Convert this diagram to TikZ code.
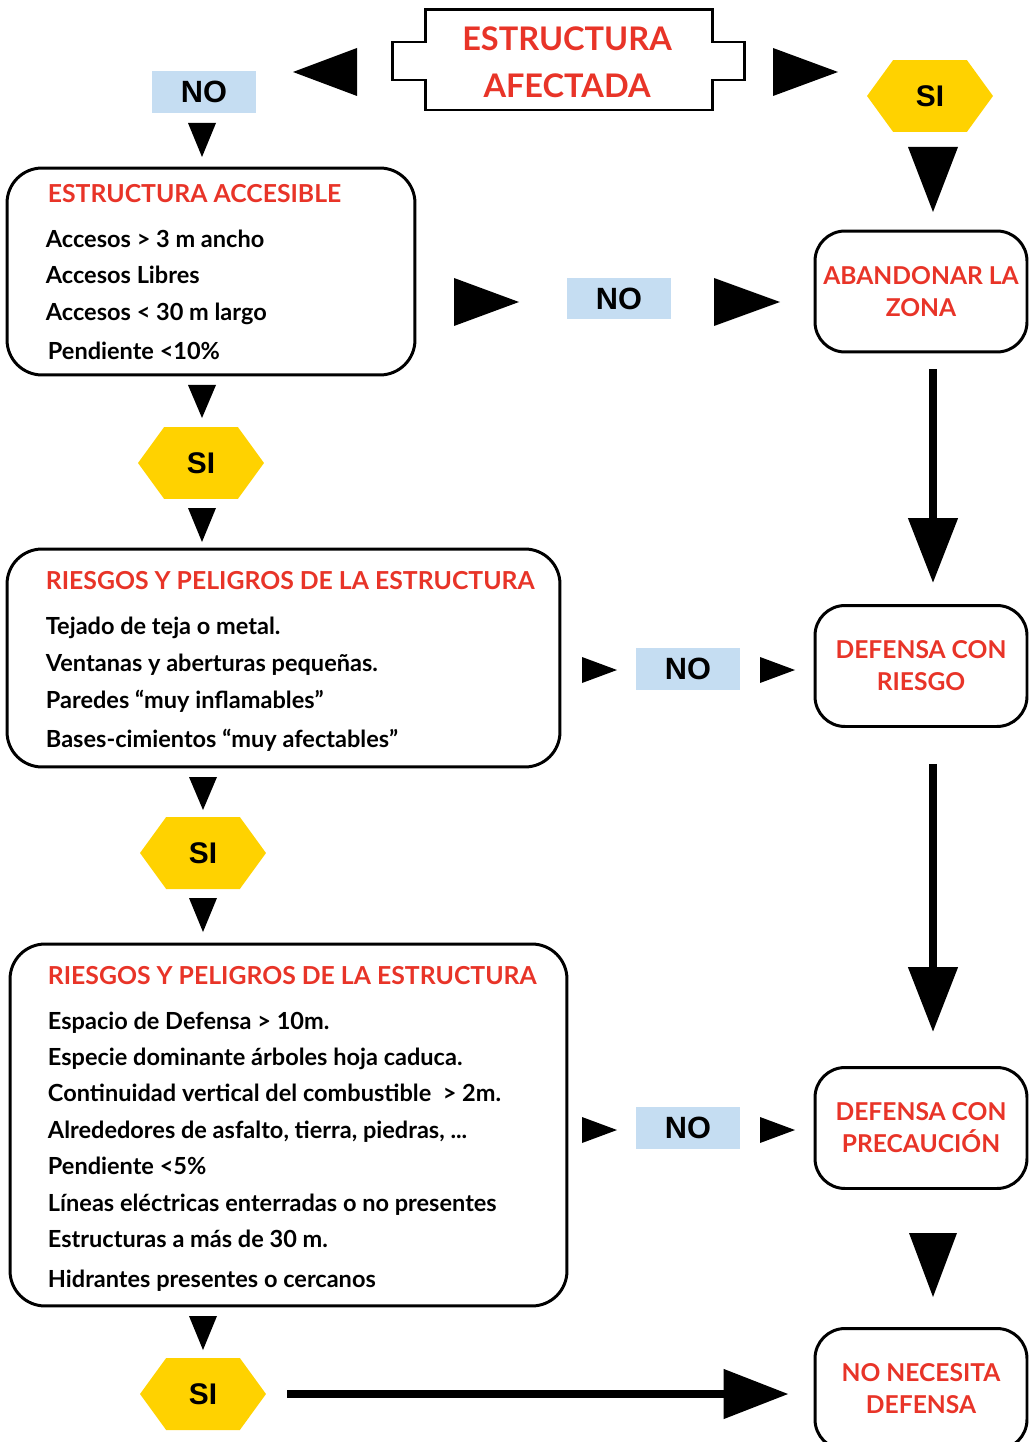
\documentclass[tikz,border=0pt]{standalone}
\usepackage{fontspec}
\setmainfont{Lato}
\newfontfamily\arialfont{Liberation Sans}
\usepackage{tikz}
\usetikzlibrary{shapes,shapes.geometric,shapes.symbols,arrows,arrows.meta,positioning,calc,fit}
\definecolor{tred}{RGB}{232,52,40}
\definecolor{nofill}{RGB}{197,221,242}
\definecolor{siyellow}{RGB}{255,210,0}
% filled triangles: x, y of base middle, half base, length
\newcommand{\tridown}[4]{\fill (#1-#3,#2) -- (#1+#3,#2) -- (#1,#2+#4) -- cycle;}
\newcommand{\triright}[4]{\fill (#1,#2-#3) -- (#1,#2+#3) -- (#1+#4,#2) -- cycle;}

\begin{document}
\begin{tikzpicture}[x=0.02cm, y=-0.02cm, >=stealth]
  % styles
  \tikzstyle{card}=[rectangle, draw=black, line width=1.7pt, rounded corners=0.7cm, inner sep=0pt];
  \tikzstyle{head}=[font=\fontsize{14.1}{16}\selectfont\bfseries, text=tred, anchor=base west, inner sep=0pt];
  \tikzstyle{item}=[font=\fontsize{13.4}{15}\selectfont\bfseries, anchor=base west, inner sep=0pt];
  \tikzstyle{res}=[card, rounded corners=0.6cm, minimum width=4.24cm, minimum height=2.42cm, align=center, text=tred, font=\fontsize{14}{18.2}\selectfont\bfseries];
  \tikzstyle{no}=[rectangle, fill=nofill, minimum width=2.08cm, minimum height=0.84cm, inner sep=0pt, font=\arialfont\fontsize{17.5}{19}\selectfont\bfseries];
  \tikzstyle{si}=[signal, signal to=west and east, signal pointer angle=108, fill=siyellow, minimum width=2.52cm, minimum height=1.44cm, inner sep=0pt, font=\arialfont\fontsize{17}{19}\selectfont\bfseries];
  \tikzstyle{big}=[line width=0.16cm, -{Triangle[length=1.3cm, width=0.96cm]}];

  \useasboundingbox (0,0) rectangle (1032,1442);

  %==================== TOP ====================
  \node[align=center, text=tred, inner sep=0pt, font=\fontsize{18.5}{26.7}\selectfont\bfseries] (top) at (567,62) {ESTRUCTURA\\AFECTADA};
  \draw[line width=1.7pt] (425,10) -- (712,10) -- (712,42) -- (744,42) -- (744,80) -- (712,80) -- (712,110)
    -- (425,110) -- (425,80) -- (392,80) -- (392,42) -- (425,42) -- cycle;
  \fill (293,72) -- (357,48) -- (357,96) -- cycle;
  \triright{773}{72}{24}{65}
  \node[no] (no1) at (204,92) {NO};
  \node[si] (si1) at (930,96) {SI};
  \tridown{202}{123}{14}{34}
  \tridown{933}{147}{25}{65}

  %==================== ACCESIBLE ====================
  \node[card, minimum width=8.16cm, minimum height=4.14cm] (acc) at (211,271.5) {};
  \node[head] (acc0) at ($(acc.north west)+(42,36)$) {ESTRUCTURA ACCESIBLE};
  \node[item] (acc1) at ($(acc.north west)+(40,81)$) {Accesos > 3 m ancho};
  \node[item] (acc2) at ($(acc.north west)+(40,117)$) {Accesos Libres};
  \node[item] (acc3) at ($(acc.north west)+(40,154)$) {Accesos < 30 m largo};
  \node[item] (acc4) at ($(acc.north west)+(42,193)$) {Pendiente <10\%};
  \triright{454}{302}{24}{65}
  \node[no] (no2) at (619,298.5) {NO};
  \triright{714}{302}{24}{66}
  \node[res] (aband) at (921,291.5) {ABANDONAR LA\\ZONA};
  \tridown{202}{385}{14}{33}
  \node[si] (si2) at (201,463) {SI};
  \tridown{202}{508}{14}{34}

  %==================== RIESGOS 1 ====================
  \node[card, minimum width=11.06cm, minimum height=4.36cm] (rie) at (283.5,658) {};
  \node[head] (rie0) at ($(rie.north west)+(40,42)$) {RIESGOS Y PELIGROS DE LA ESTRUCTURA};
  \node[item] (rie1) at ($(rie.north west)+(40,87)$) {Tejado de teja o metal.};
  \node[item] (rie2) at ($(rie.north west)+(40,124)$) {Ventanas y aberturas pequeñas.};
  \node[item] (rie3) at ($(rie.north west)+(40,161)$) {Paredes “muy inflamables”};
  \node[item] (rie4) at ($(rie.north west)+(40,200)$) {Bases-cimientos “muy afectables”};
  \triright{582}{670}{13}{35}
  \node[no] (no3) at (688,669) {NO};
  \triright{760}{670}{13}{35}
  \node[res] (riesgo) at (921,666) {DEFENSA CON\\RIESGO};
  \tridown{203}{777}{14}{33}
  \node[si] (si3) at (203,853) {SI};
  \tridown{203}{898}{14}{34}

  %==================== RIESGOS 2 ====================
  \node[card, minimum width=11.14cm, minimum height=7.24cm] (def) at (288.5,1125) {};
  \node[head] (def0) at ($(def.north west)+(39,42)$) {RIESGOS Y PELIGROS DE LA ESTRUCTURA};
  \node[item] (def1) at ($(def.north west)+(39,87)$) {Espacio de Defensa > 10m.};
  \node[item] (def2) at ($(def.north west)+(39,123)$) {Especie dominante árboles hoja caduca.};
  \node[item] (def3) at ($(def.north west)+(39,159)$) {Continuidad vertical del combustible \ > 2m.};
  \node[item] (def4) at ($(def.north west)+(39,196)$) {Alrededores de asfalto, tierra, piedras, ...};
  \node[item] (def5) at ($(def.north west)+(39,232)$) {Pendiente <5\%};
  \node[item] (def6) at ($(def.north west)+(39,269)$) {Líneas eléctricas enterradas o no presentes};
  \node[item] (def7) at ($(def.north west)+(39,305)$) {Estructuras a más de 30 m.};
  \node[item] (def8) at ($(def.north west)+(39,345)$) {Hidrantes presentes o cercanos};
  \triright{582}{1130}{13}{35}
  \node[no] (no4) at (688,1128) {NO};
  \triright{760}{1130}{13}{35}
  \node[res] (prec) at (921,1128) {DEFENSA CON\\PRECAUCIÓN};
  \tridown{933}{1233}{24}{64}
  \tridown{203}{1316}{14}{34}
  \node[si] (si4) at (203,1394) {SI};
  \node[res] (nonec) at (921,1389) {NO NECESITA\\DEFENSA};

  % long arrows
  \draw[big, shorten <=0.32cm, shorten >=0.42cm] ($(aband.south)+(12,0)$) -- ($(riesgo.north)+(12,0)$);
  \draw[big, shorten <=0.72cm, shorten >=0.68cm] ($(riesgo.south)+(12,0)$) -- ($(prec.north)+(12,0)$);
  \draw[big, shorten <=0.42cm, shorten >=0.5cm] (si4.east) -- (si4.east -| nonec.west);
\end{tikzpicture}
\end{document}
